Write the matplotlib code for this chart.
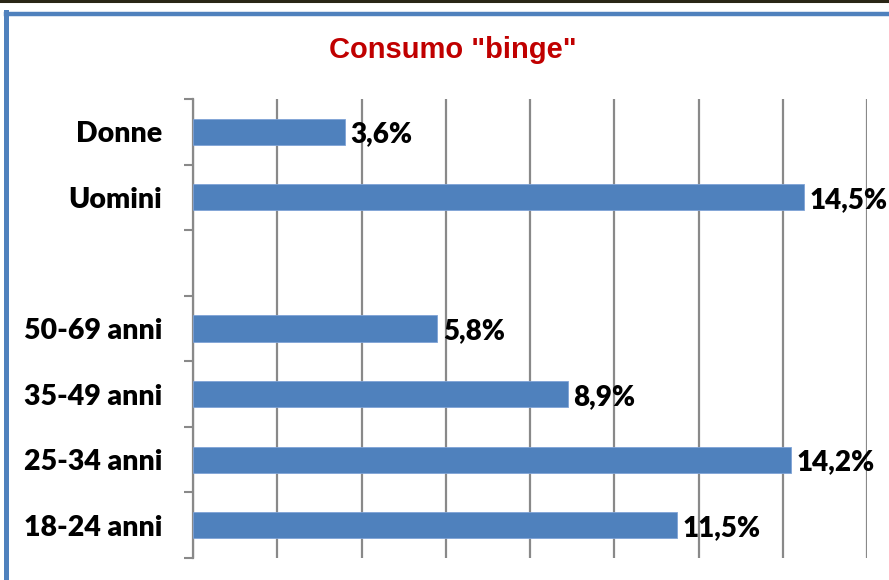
import matplotlib
matplotlib.use("Agg")
import matplotlib.pyplot as plt
from matplotlib.lines import Line2D

# data, bottom to top
categories = ["18-24 anni", "25-34 anni", "35-49 anni", "50-69 anni", "", "Uomini", "Donne"]
values = [11.5, 14.2, 8.9, 5.8, None, 14.5, 3.6]
title = 'Consumo "binge"'

BAR = "#4F81BD"
GRID = "#898989"
W, H = 889, 580

fig = plt.figure(figsize=(W / 100, H / 100), dpi=100)
ax = fig.add_axes([193 / W, 1 - 558 / H, (867 - 193) / W, (558 - 99) / H])

ypos = list(range(len(categories)))
for y, v in zip(ypos, values):
    if v is None:
        continue
    ax.barh(y, v, height=0.4, color=BAR, edgecolor="#7fa3d6", linewidth=0.6, zorder=3)
    ax.annotate(f"{v:.1f}".replace(".", ",") + "%", (v, y), xytext=(4, -2),
                textcoords="offset points", ha="left", va="center",
                fontsize=20, fontweight="heavy", family="Lato", color="black")

ax.set_xlim(0, 16)
ax.set_ylim(-0.5, len(categories) - 0.5)
ax.set_xticks(range(0, 17, 2))
ax.tick_params(axis="x", length=0, labelbottom=False)
ax.grid(axis="x", color=GRID, linewidth=1.6, zorder=0)

# category boundaries as major ticks, labels on minor ticks
ax.set_yticks([i - 0.5 for i in range(len(categories) + 1)])
ax.set_yticklabels([])
ax.tick_params(axis="y", which="major", length=6.5, width=1.5, color=GRID)
ax.set_yticks(ypos, minor=True)
ax.set_yticklabels(categories, minor=True, fontsize=20.5, fontweight="heavy", family="Lato")
ax.tick_params(axis="y", which="minor", length=0, pad=22)

for s in ["top", "right", "bottom"]:
    ax.spines[s].set_visible(False)
ax.spines["left"].set_color(GRID)
ax.spines["left"].set_linewidth(1.6)

fig.text(453 / W, 1 - 50 / H, title, ha="center", va="center", color="#C00000",
         fontsize=21, fontweight="bold", family="Liberation Sans")

# frame decorations
fig.add_artist(Line2D([0, 1], [1 - 1 / H, 1 - 1 / H], color="#2a2616", linewidth=2.2))
fig.add_artist(Line2D([6 / W, 1], [1 - 13.5 / H, 1 - 13.5 / H], color="#4F81BD", linewidth=3.2))
fig.add_artist(Line2D([6 / W, 6 / W], [0, 1 - 12 / H], color="#4F81BD", linewidth=3.6))

fig.savefig("out.png", dpi=100)
